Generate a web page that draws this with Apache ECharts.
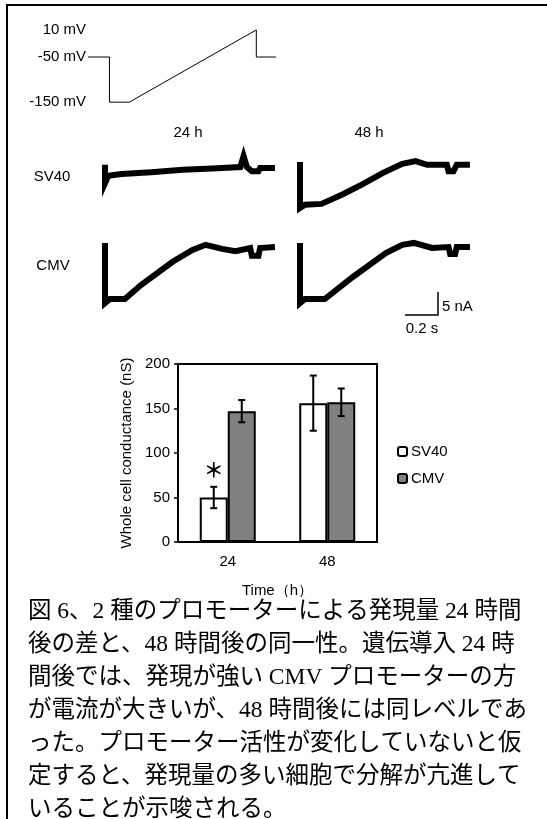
<!DOCTYPE html>
<html>
<head>
<meta charset="utf-8">
<script src="https://cdn.jsdelivr.net/npm/echarts@6/dist/echarts.min.js"></script>
<style>
html,body{margin:0;padding:0;background:#fff;}
#chart{width:547px;height:819px;}
</style>
</head>
<body>
<div id="chart"></div>
<script>
// Voltage protocol: [time (s), membrane potential (mV)]
const protocolTrace = [[0, -50], [0.13, -50], [0.13, -150], [0.25, -150], [1.02, 10], [1.02, -50], [1.14, -50]];
const protocolLevels = [10, -50, -150];

// Whole-cell current traces: [time (s), current (nA)]
const traceSV40_24h = [[0, 0.7], [0, -3.3], [0.02, -1.7], [0.1, -1.3], [0.28, -0.9], [0.47, -0.4], [0.65, -0.1], [0.82, 0.2], [0.84, 2.6], [0.86, 0.2], [0.89, -0.7], [0.93, -0.7], [0.94, 0], [1.03, 0]];
const traceSV40_48h = [[0, 1.3], [0, -8.7], [0.03, -8.0], [0.13, -7.8], [0.26, -5.7], [0.38, -3.5], [0.5, -1.1], [0.62, 0.9], [0.7, 1.5], [0.77, 0.7], [0.89, 0.7], [0.9, -0.7], [0.93, -0.7], [0.95, 0.7], [1.03, 0.7]];
const traceCMV_24h = [[0, 1.1], [0, -12], [0.03, -11.1], [0.12, -11.1], [0.22, -8], [0.41, -3], [0.53, -0.4], [0.61, 0.7], [0.71, -0.2], [0.79, -0.7], [0.88, 0], [0.89, -1.7], [0.93, -1.7], [0.94, 0], [1.03, 0.2]];
const traceCMV_48h = [[0, 1.1], [0, -12], [0.03, -11.1], [0.15, -11.1], [0.32, -6.3], [0.52, -1.1], [0.62, 0.7], [0.69, 1.1], [0.8, 0], [0.9, 0.2], [0.91, -1.3], [0.94, -1.3], [0.95, 0.2], [1.03, 0.2]];

// Scale bar: 0.2 s by 5 nA
const scaleBar = [[0, 0], [0.2, 0], [0.2, 5]];

// Conductance summary (nS)
const timeCategories = ['24', '48'];
const sv40Mean = [50, 156];
const sv40Err = [12, 31];
const cmvMean = [147, 157];
const cmvErr = [12.5, 15.5];
const significance = ['＊', ''];

const captionLines = [
  '図 6、2 種のプロモーターによる発現量 24 時間',
  '後の差と、48 時間後の同一性。遺伝導入 24 時',
  '間後では、発現が強い CMV プロモーターの方',
  'が電流が大きいが、48 時間後には同レベルであ',
  'った。プロモーター活性が変化していないと仮',
  '定すると、発現量の多い細胞で分解が亢進して',
  'いることが示唆される。'
];

const SANS = 'Liberation Sans';
const chart = echarts.init(document.getElementById('chart'), null, {renderer: 'canvas'});

const hidden = (min, max) => ({type: 'value', min, max, show: false});

function traceSeries(data, idx, width) {
  return {
    type: 'line', xAxisIndex: idx, yAxisIndex: idx, data,
    symbol: 'none', showSymbol: false, clip: false, silent: true,
    lineStyle: {color: '#000', width: width, join: 'miter', cap: 'butt'}
  };
}

function errorBars(means, errs, shift, marks) {
  return {
    type: 'custom', xAxisIndex: 6, yAxisIndex: 6, silent: true, z: 5,
    data: means.map((m, i) => [i, m - errs[i], m + errs[i]]),
    encode: {x: 0, y: [1, 2]},
    renderItem(params, api) {
      const cat = api.value(0);
      const lo = api.coord([cat, api.value(1)]);
      const hi = api.coord([cat, api.value(2)]);
      const x = lo[0] + shift;
      const cap = 3.5;
      const st = {stroke: '#000', lineWidth: 2};
      const children = [
        {type: 'line', shape: {x1: x, y1: lo[1], x2: x, y2: hi[1]}, style: st},
        {type: 'line', shape: {x1: x - cap, y1: lo[1], x2: x + cap, y2: lo[1]}, style: st},
        {type: 'line', shape: {x1: x - cap, y1: hi[1], x2: x + cap, y2: hi[1]}, style: st}
      ];
      const mark = marks ? marks[params.dataIndex] : '';
      if (mark) {
        children.push({type: 'text', style: {
          text: mark, x: x, y: hi[1] - 6, align: 'center', verticalAlign: 'bottom',
          font: 'bold 20px "Noto Sans CJK JP"', fill: '#000'
        }});
      }
      return {type: 'group', children};
    }
  };
}

const option = {
  animation: false,
  backgroundColor: '#fff',
  grid: [
    {left: 88, top: 25.4, width: 188.1, height: 81.3},      // protocol
    {left: 105, top: 154.2, width: 181.5, height: 73.6},    // SV40 24 h
    {left: 300, top: 154.2, width: 181.5, height: 73.6},    // SV40 48 h
    {left: 105, top: 234.2, width: 181.5, height: 73.6},    // CMV 24 h
    {left: 300, top: 234.2, width: 181.5, height: 73.6},    // CMV 48 h
    {left: 405, top: 292, width: 33, height: 23},           // scale bar
    {left: 178, top: 364, width: 199, height: 178, show: true, borderColor: '#000', borderWidth: 2} // summary
  ],
  xAxis: [
    hidden(0, 1.14), hidden(0, 1.1), hidden(0, 1.1), hidden(0, 1.1), hidden(0, 1.1), hidden(0, 0.2),
    {
      type: 'category', gridIndex: 6, data: timeCategories,
      axisLine: {lineStyle: {color: '#000', width: 2}},
      axisTick: {inside: true, length: 4, lineStyle: {color: '#000', width: 1.5}},
      axisLabel: {margin: 12, color: '#000', fontFamily: SANS, fontSize: 15},
      name: 'Time（h）', nameLocation: 'middle', nameGap: 41,
      nameTextStyle: {color: '#000', fontFamily: SANS, fontSize: 15}
    }
  ].map((a, i) => Object.assign({gridIndex: i}, a)),
  yAxis: [
    {
      type: 'value', min: -160, max: 20,
      axisLine: {show: false}, axisTick: {show: false}, splitLine: {show: false},
      axisLabel: {
        customValues: protocolLevels, margin: 2, color: '#000', fontFamily: SANS, fontSize: 15,
        formatter: v => v + ' mV'
      }
    },
    hidden(-13, 3), hidden(-13, 3), hidden(-13, 3), hidden(-13, 3), hidden(0, 5),
    {
      type: 'value', min: 0, max: 200, interval: 50,
      axisLine: {show: true, lineStyle: {color: '#000', width: 2}},
      axisTick: {show: true, length: 4, lineStyle: {color: '#000', width: 1.5}},
      splitLine: {show: false},
      axisLabel: {margin: 8, color: '#000', fontFamily: SANS, fontSize: 15},
      name: 'Whole cell conductance (nS)', nameLocation: 'middle', nameGap: 44, nameRotate: 90,
      nameTextStyle: {color: '#000', fontFamily: SANS, fontSize: 15}
    }
  ].map((a, i) => Object.assign({gridIndex: i}, a)),
  legend: {
    data: ['SV40', 'CMV'], orient: 'vertical', left: 397, top: 444, padding: 0,
    itemWidth: 9, itemHeight: 9, itemGap: 12, selectedMode: false,
    itemStyle: {borderColor: '#000', borderWidth: 2},
    textStyle: {color: '#000', fontFamily: SANS, fontSize: 15, padding: [0, 0, 0, -1]}
  },
  series: [
    traceSeries(protocolTrace, 0, 1),
    traceSeries(traceSV40_24h, 1, 6),
    traceSeries(traceSV40_48h, 2, 6),
    traceSeries(traceCMV_24h, 3, 6),
    traceSeries(traceCMV_48h, 4, 6),
    traceSeries(scaleBar, 5, 1.5),
    {
      type: 'bar', name: 'SV40', xAxisIndex: 6, yAxisIndex: 6, data: sv40Mean,
      barWidth: 28, barGap: '0%', silent: true,
      itemStyle: {color: '#fff', borderColor: '#000', borderWidth: 2}
    },
    {
      type: 'bar', name: 'CMV', xAxisIndex: 6, yAxisIndex: 6, data: cmvMean,
      barWidth: 28, barGap: '0%', silent: true,
      itemStyle: {color: '#808080', borderColor: '#000', borderWidth: 2}
    },
    errorBars(sv40Mean, sv40Err, -14, significance),
    errorBars(cmvMean, cmvErr, 14, null)
  ],
  graphic: [
    // frame
    {type: 'line', shape: {x1: 7, y1: 5, x2: 547, y2: 5}, style: {stroke: '#000', lineWidth: 2}},
    {type: 'line', shape: {x1: 7, y1: 4, x2: 7, y2: 819}, style: {stroke: '#000', lineWidth: 2}},
    // panel headings
    {type: 'text', x: 188, y: 133, style: {text: '24 h', align: 'center', verticalAlign: 'middle', font: '15px "Liberation Sans"', fill: '#000'}},
    {type: 'text', x: 369, y: 133, style: {text: '48 h', align: 'center', verticalAlign: 'middle', font: '15px "Liberation Sans"', fill: '#000'}},
    {type: 'text', x: 52, y: 177, style: {text: 'SV40', align: 'center', verticalAlign: 'middle', font: '15px "Liberation Sans"', fill: '#000'}},
    {type: 'text', x: 53, y: 266, style: {text: 'CMV', align: 'center', verticalAlign: 'middle', font: '15px "Liberation Sans"', fill: '#000'}},
    // scale bar labels
    {type: 'text', x: 442, y: 307, style: {text: '5 nA', align: 'left', verticalAlign: 'middle', font: '15px "Liberation Sans"', fill: '#000'}},
    {type: 'text', x: 422, y: 329, style: {text: '0.2 s', align: 'center', verticalAlign: 'middle', font: '15px "Liberation Sans"', fill: '#000'}},
    // caption panel
    {type: 'rect', z: 50, shape: {x: 9, y: 597, width: 538, height: 222}, style: {fill: '#fff'}},
    ...captionLines.map((line, i) => ({
      type: 'text', z: 51, x: 28, y: 612 + i * 33,
      style: {text: line, align: 'left', verticalAlign: 'middle', font: '23.5px "Liberation Serif", "Noto Sans CJK JP"', fill: '#000'}
    }))
  ]
};

chart.setOption(option);
</script>
</body>
</html>
